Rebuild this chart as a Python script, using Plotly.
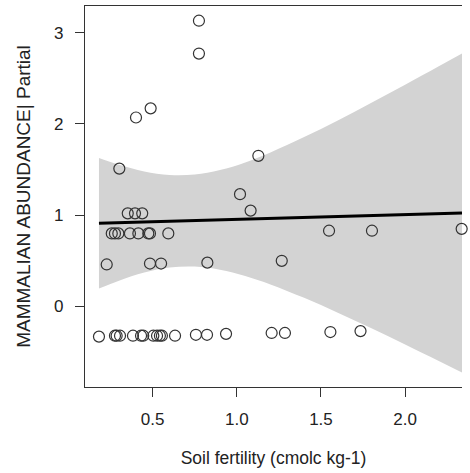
import plotly.graph_objects as go

# Soil fertility (cmolc kg-1) and partial residual of mammalian abundance
soil_fertility = [
    0.181, 0.276, 0.286, 0.306, 0.383, 0.431, 0.444, 0.504, 0.526, 0.543,
    0.555, 0.633, 0.757, 0.823, 0.936, 1.207, 1.286, 1.556, 1.735,
    0.257, 0.276, 0.296, 0.365, 0.415, 0.474, 0.484, 0.593,
    0.352, 0.395, 0.438,
    0.227, 0.484, 0.550, 0.825, 1.267,
    0.302, 1.128, 1.019, 1.082, 1.548, 1.803, 2.336,
    0.775, 0.775, 0.401, 0.488,
]
abundance_partial = [
    -0.33, -0.32, -0.32, -0.32, -0.32, -0.32, -0.32, -0.32, -0.32, -0.32,
    -0.32, -0.32, -0.31, -0.31, -0.30, -0.29, -0.29, -0.28, -0.27,
    0.80, 0.80, 0.80, 0.80, 0.80, 0.80, 0.80, 0.80,
    1.02, 1.02, 1.02,
    0.46, 0.47, 0.47, 0.48, 0.50,
    1.51, 1.65, 1.23, 1.05, 0.83, 0.83, 0.85,
    3.13, 2.77, 2.07, 2.17,
]

# Linear fit and its confidence band
fit_x = [0.181, 2.338]
fit_y = [0.911, 1.024]
band_x = [0.181, 0.3, 0.45, 0.6, 0.75, 0.9, 1.05, 1.2, 1.4, 1.6, 1.8, 2.0, 2.2, 2.338]
band_upper = [1.626, 1.551, 1.479, 1.440, 1.445, 1.494, 1.578, 1.687, 1.855,
              2.038, 2.231, 2.429, 2.631, 2.771]
band_lower = [0.196, 0.283, 0.371, 0.426, 0.437, 0.403, 0.335, 0.242, 0.095,
              -0.068, -0.239, -0.417, -0.597, -0.724]

x_ticks = [0.5, 1.0, 1.5, 2.0]
x_tick_labels = ["0.5", "1.0", "1.5", "2.0"]
y_ticks = [0, 1, 2, 3]
y_tick_labels = ["0", "1", "2", "3"]

FONT = "Liberation Sans, Arial, sans-serif"
INK = "#222222"
AXIS = "#333333"

fig = go.Figure()

fig.add_trace(go.Scatter(
    x=band_x, y=band_lower, mode="lines", line=dict(width=0, shape="spline"),
    hoverinfo="skip", showlegend=False,
))
fig.add_trace(go.Scatter(
    x=band_x, y=band_upper, mode="lines", line=dict(width=0, shape="spline"),
    fill="tonexty", fillcolor="#d3d3d3", hoverinfo="skip", showlegend=False,
))
fig.add_trace(go.Scatter(
    x=fit_x, y=fit_y, mode="lines", line=dict(color="black", width=3),
    showlegend=False,
))
fig.add_trace(go.Scatter(
    x=soil_fertility, y=abundance_partial, mode="markers",
    marker=dict(symbol="circle-open", size=11, color="#333333",
                line=dict(width=1.2, color="#333333")),
    cliponaxis=False, showlegend=False,
))

fig.update_layout(
    width=470, height=473,
    margin=dict(l=85, r=8, t=6, b=86),
    paper_bgcolor="white", plot_bgcolor="white",
    font=dict(family=FONT, size=17, color=INK),
    xaxis=dict(
        range=[0.098, 2.338], tickvals=x_ticks, ticktext=x_tick_labels,
        showgrid=False, zeroline=False,
        showline=True, linecolor=AXIS, linewidth=1.4, mirror=True,
        ticks="outside", ticklen=9, tickwidth=1.3, tickcolor=AXIS,
        ticklabelstandoff=7,
        title=dict(text="Soil fertility (cmolc kg-1)", standoff=24,
                   font=dict(size=17.5)),
    ),
    yaxis=dict(
        range=[-0.882, 3.291], tickvals=y_ticks, ticktext=y_tick_labels,
        showgrid=False, zeroline=False,
        showline=True, linecolor=AXIS, linewidth=1.4, mirror=False,
        ticks="outside", ticklen=9, tickwidth=1.3, tickcolor=AXIS,
        ticklabelstandoff=8,
        title=dict(text="MAMMALIAN ABUNDANCE| Partial", standoff=18,
                   font=dict(size=19)),
    ),
)

fig.write_html("out.html")
